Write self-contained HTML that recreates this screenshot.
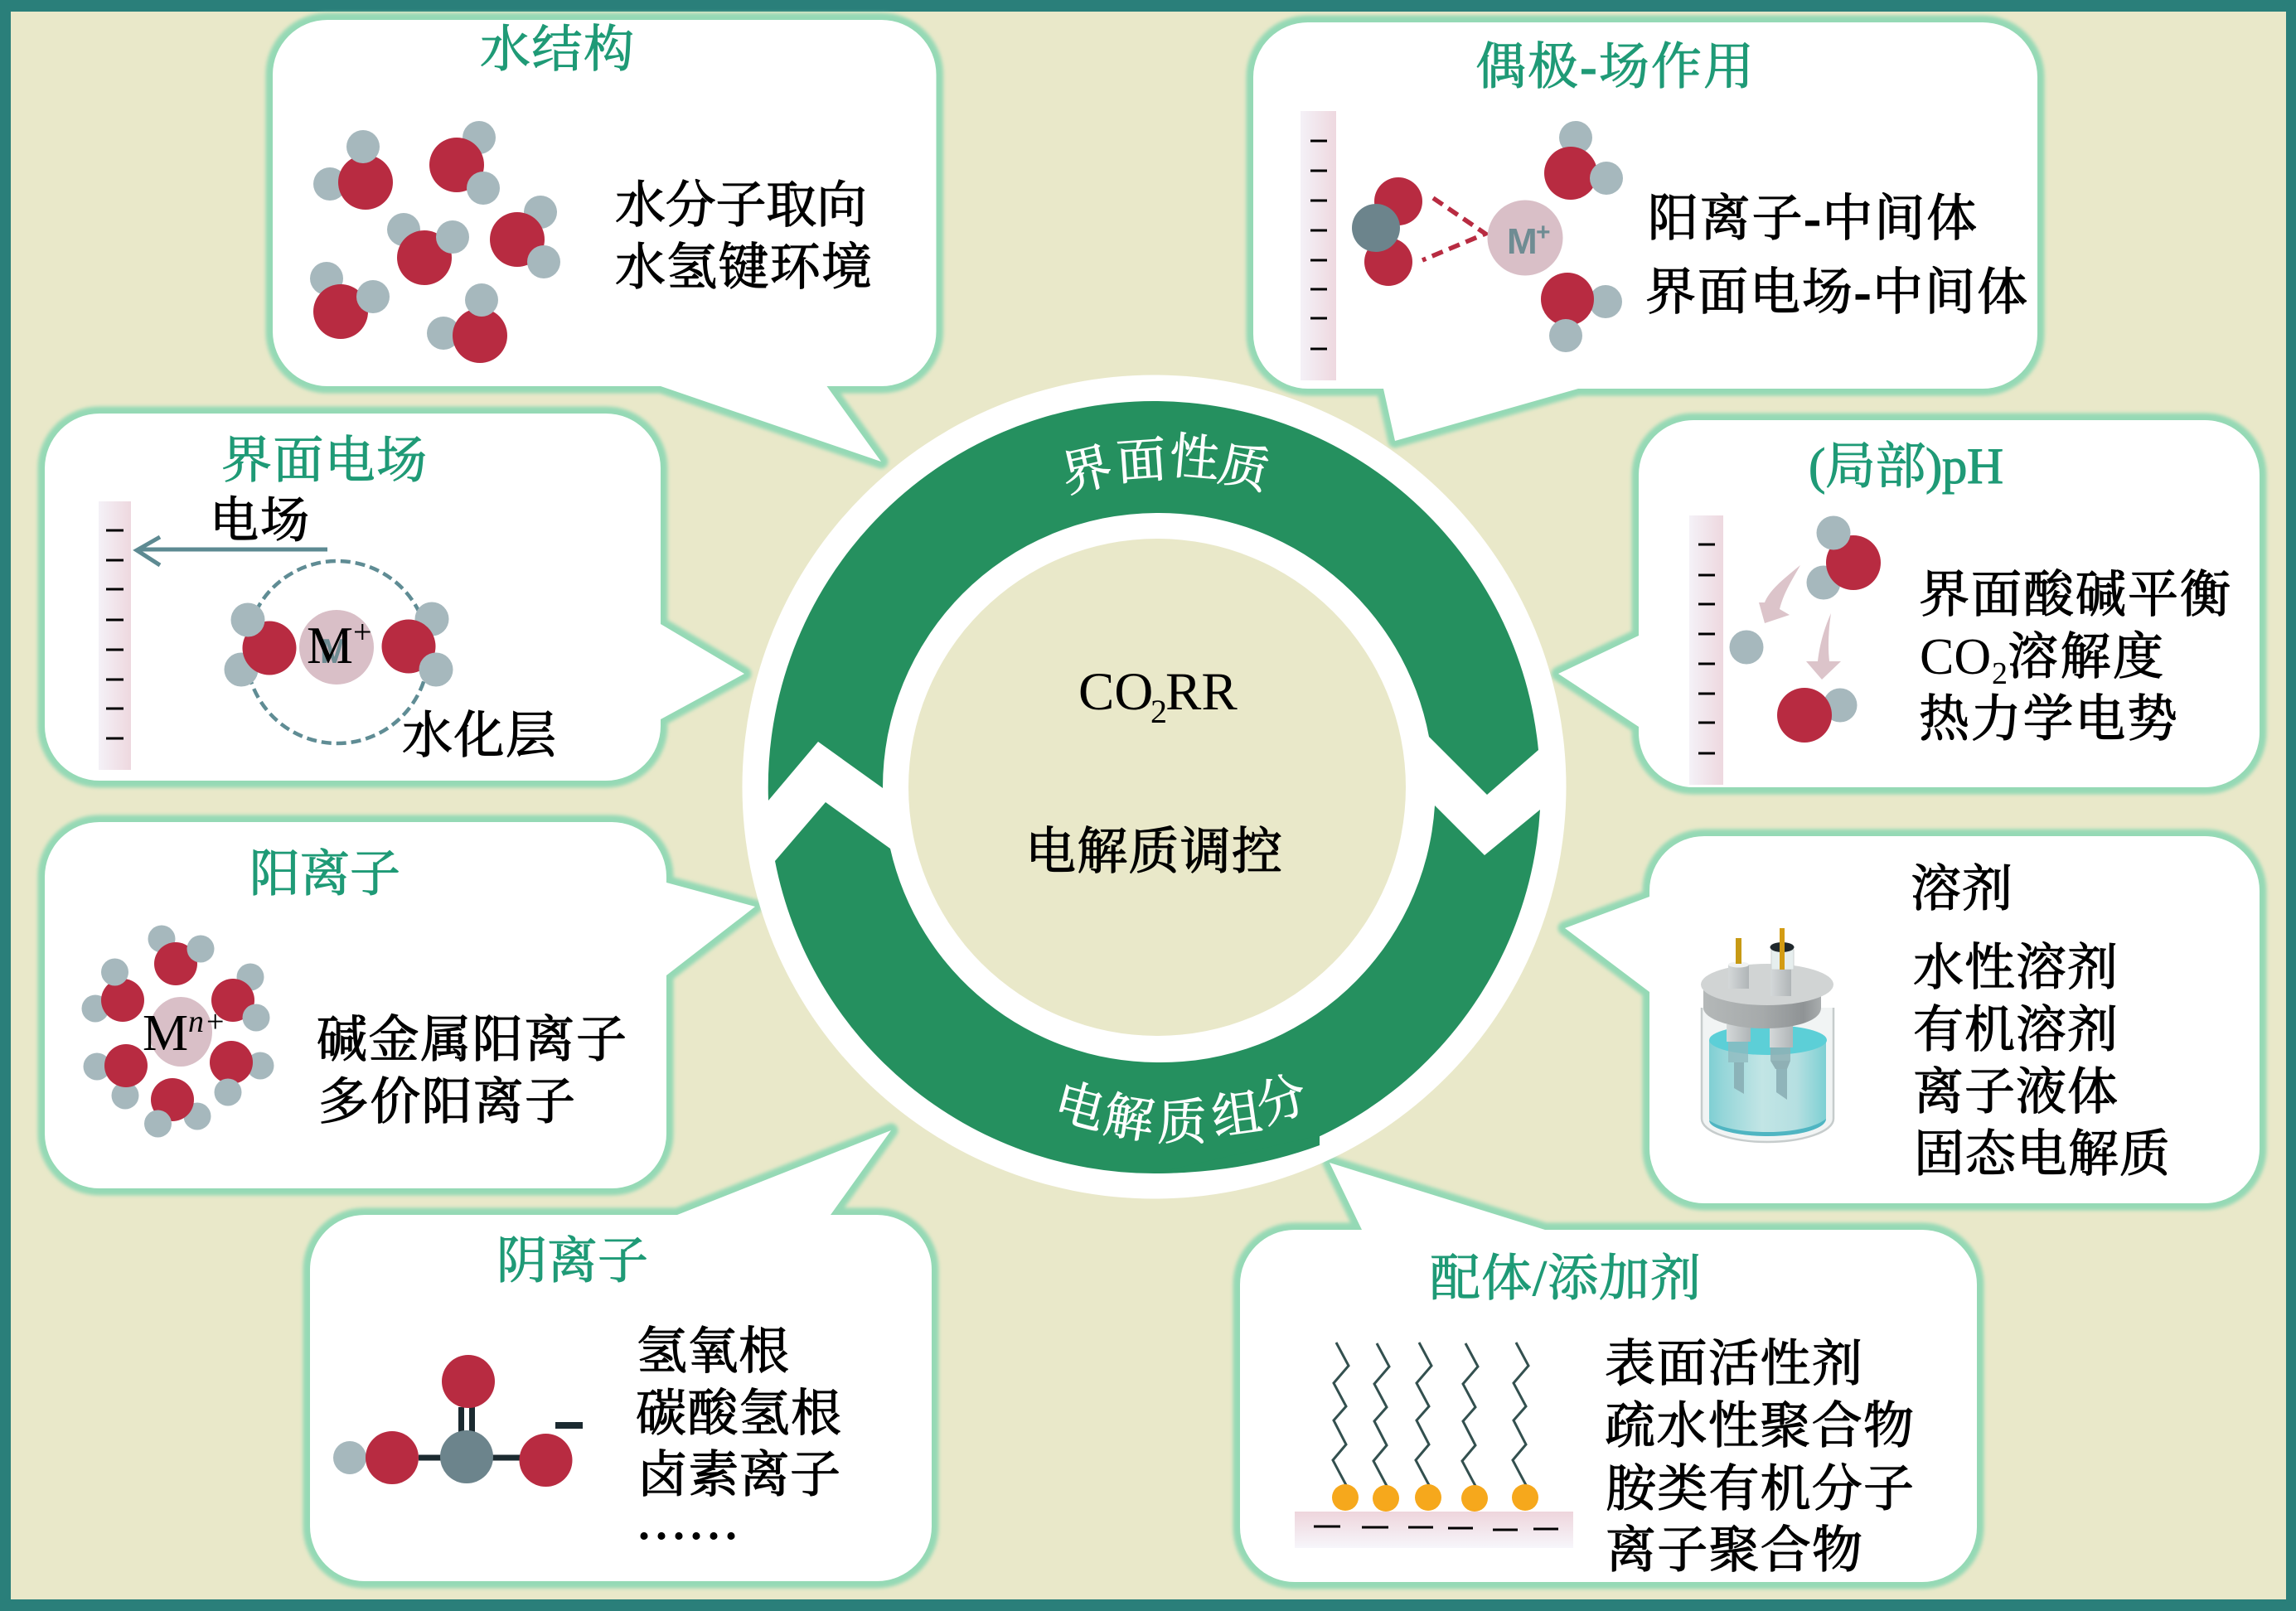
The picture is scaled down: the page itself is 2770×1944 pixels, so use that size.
<!DOCTYPE html>
<html lang="zh-CN"><head><meta charset="utf-8"><title>CO2RR 电解质调控</title>
<style>
html,body{margin:0;padding:0;background:#2a7f7a}
svg{display:block}
text{font-family:"Liberation Serif","Noto Serif CJK SC",serif}
.t{font-size:61px;fill:#1f9a76;stroke:#1f9a76;stroke-width:1}
.b{font-size:61px;fill:#000;stroke:#000;stroke-width:1.2}
.w{font-size:60px;fill:#fff;text-anchor:middle;stroke:#fff;stroke-width:.8}
.r{fill:#b82b41}.g{fill:#a6b8bd}.p{fill:#d9bfc7}.d{fill:#6c848c}
.glow{fill:none;stroke:#95d9b5;stroke-width:17;stroke-linejoin:round;filter:url(#bl)}
.fill{fill:#fff}
.tick{stroke:#000;stroke-width:3;fill:none}
.zig{fill:none;stroke:#33504f;stroke-width:3;stroke-linejoin:miter}
</style></head><body>
<svg xmlns="http://www.w3.org/2000/svg" width="2770" height="1944" viewBox="0 0 2770 1944">
<defs>
<filter id="bl" x="-5%" y="-5%" width="110%" height="110%"><feGaussianBlur stdDeviation="2.2"/></filter>
<linearGradient id="wall" x1="0" x2="1" y1="0" y2="0"><stop offset="0" stop-color="#f4f1f7"/><stop offset="1" stop-color="#eed8df"/></linearGradient>
<linearGradient id="wallv" x1="0" x2="0" y1="0" y2="1"><stop offset="0" stop-color="#eed5dc"/><stop offset="1" stop-color="#f7f6fb"/></linearGradient>
<linearGradient id="lid" x1="0" x2="1" y1="0" y2="0"><stop offset="0" stop-color="#b4b8b8"/><stop offset=".5" stop-color="#a6aaab"/><stop offset=".85" stop-color="#8f9395"/><stop offset="1" stop-color="#a9adae"/></linearGradient>
<linearGradient id="liq" x1="0" x2="1" y1="0" y2="0"><stop offset="0" stop-color="#7fcfd3"/><stop offset=".12" stop-color="#96d6d9"/><stop offset=".45" stop-color="#c2e5e5"/><stop offset=".75" stop-color="#b5dfe1"/><stop offset="1" stop-color="#7dd0d3"/></linearGradient>
<linearGradient id="rod" x1="0" x2="1" y1="0" y2="0"><stop offset="0" stop-color="#d4d8d9"/><stop offset="1" stop-color="#b0b5b7"/></linearGradient>
</defs>

<rect width="2770" height="1944" fill="#2a7f7a"/>
<rect x="13" y="14" width="2745" height="1916" fill="#e9e8c9"/>

<!-- bubble outlines -->
<path class="glow" d="M395,24H1063.5A66,66 0 0 1 1129.5,90V400A66,66 0 0 1 1063.5,466H997.5L1063,557L797,466H395A66,66 0 0 1 329,400V90A66,66 0 0 1 395,24Z"/>
<path class="glow" d="M120,499H731A66,66 0 0 1 797,565V753L898,813L797,868V876A66,66 0 0 1 731,942H120A66,66 0 0 1 54,876V565A66,66 0 0 1 120,499Z"/>
<path class="glow" d="M120,992H738A66,66 0 0 1 804,1058V1065L911,1094L804,1177V1368A66,66 0 0 1 738,1434H120A66,66 0 0 1 54,1368V1058A66,66 0 0 1 120,992Z"/>
<path class="glow" d="M440,1466H817L1075,1364L1002,1466H1058A66,66 0 0 1 1124,1532V1842A66,66 0 0 1 1058,1908H440A66,66 0 0 1 374,1842V1532A66,66 0 0 1 440,1466Z"/>
<path class="glow" d="M1562,1484H1643L1604,1403L1864,1484H2319A66,66 0 0 1 2385,1550V1843A66,66 0 0 1 2319,1909H1562A66,66 0 0 1 1496,1843V1550A66,66 0 0 1 1562,1484Z"/>
<path class="glow" d="M2056,1009H2660A66,66 0 0 1 2726,1075V1386A66,66 0 0 1 2660,1452H2056A66,66 0 0 1 1990,1386V1197L1888,1120L1990,1082V1075A66,66 0 0 1 2056,1009Z"/>
<path class="glow" d="M2043,507H2660A66,66 0 0 1 2726,573V884A66,66 0 0 1 2660,950H2043A66,66 0 0 1 1977,884V877L1880,813L1977,767V573A66,66 0 0 1 2043,507Z"/>
<path class="glow" d="M1578,27H2392A66,66 0 0 1 2458,93V403A66,66 0 0 1 2392,469H1904L1683,532L1669,469H1578A66,66 0 0 1 1512,403V93A66,66 0 0 1 1578,27Z"/>
<!-- bubble fills -->
<path class="fill" d="M395,24H1063.5A66,66 0 0 1 1129.5,90V400A66,66 0 0 1 1063.5,466H997.5L1063,557L797,466H395A66,66 0 0 1 329,400V90A66,66 0 0 1 395,24Z"/>
<path class="fill" d="M120,499H731A66,66 0 0 1 797,565V753L898,813L797,868V876A66,66 0 0 1 731,942H120A66,66 0 0 1 54,876V565A66,66 0 0 1 120,499Z"/>
<path class="fill" d="M120,992H738A66,66 0 0 1 804,1058V1065L911,1094L804,1177V1368A66,66 0 0 1 738,1434H120A66,66 0 0 1 54,1368V1058A66,66 0 0 1 120,992Z"/>
<path class="fill" d="M440,1466H817L1075,1364L1002,1466H1058A66,66 0 0 1 1124,1532V1842A66,66 0 0 1 1058,1908H440A66,66 0 0 1 374,1842V1532A66,66 0 0 1 440,1466Z"/>
<path class="fill" d="M1562,1484H1643L1604,1403L1864,1484H2319A66,66 0 0 1 2385,1550V1843A66,66 0 0 1 2319,1909H1562A66,66 0 0 1 1496,1843V1550A66,66 0 0 1 1562,1484Z"/>
<path class="fill" d="M2056,1009H2660A66,66 0 0 1 2726,1075V1386A66,66 0 0 1 2660,1452H2056A66,66 0 0 1 1990,1386V1197L1888,1120L1990,1082V1075A66,66 0 0 1 2056,1009Z"/>
<path class="fill" d="M2043,507H2660A66,66 0 0 1 2726,573V884A66,66 0 0 1 2660,950H2043A66,66 0 0 1 1977,884V877L1880,813L1977,767V573A66,66 0 0 1 2043,507Z"/>
<path class="fill" d="M1578,27H2392A66,66 0 0 1 2458,93V403A66,66 0 0 1 2392,469H1904L1683,532L1669,469H1578A66,66 0 0 1 1512,403V93A66,66 0 0 1 1578,27Z"/>

<!-- central ring -->
<circle cx="1392.5" cy="949.5" r="497" fill="#fff"/>
<path fill="#25905f" d="M927,966A466,466 0 0 1 1392,484A466,466 0 0 1 1856,905L1794,959L1724,889A331,331 0 0 0 1395,619A331,331 0 0 0 1065,951L987,895Z"/>
<path fill="#25905f" d="M935,1039L996,968L1074,1024A331,331 0 0 0 1395,1282A331,331 0 0 0 1731,972L1791,1032L1858,977A466,466 0 0 1 1392,1416A466,466 0 0 1 935,1039Z"/>
<path fill="#25905f" d="M1592,1370V1382Q1500,1416 1392,1416Z"/>
<circle cx="1396" cy="950" r="300" fill="#e9e8c9"/>

<text class="w" transform="translate(1311,567) rotate(-13)" y="21">界</text>
<text class="w" transform="translate(1377,556) rotate(-4)" y="21">面</text>
<text class="w" transform="translate(1441,552) rotate(5)" y="21">性</text>
<text class="w" transform="translate(1501,564) rotate(12)" y="21">质</text>
<text class="w" transform="translate(1303,1335) rotate(15)" y="21">电</text>
<text class="w" transform="translate(1362,1349) rotate(9)" y="21">解</text>
<text class="w" transform="translate(1426,1354) rotate(0)" y="21">质</text>
<text class="w" transform="translate(1492,1345) rotate(-8)" y="21">组</text>
<text class="w" transform="translate(1546,1327) rotate(-19)" y="21">分</text>
<text x="1301" y="856" font-size="65" fill="#000">CO</text>
<text x="1388" y="872" font-size="40" fill="#000">2</text>
<text x="1406" y="856" font-size="65" fill="#000">RR</text>
<text class="b" x="1237" y="1048" textLength="310">电解质调控</text>

<!-- 水结构 -->
<text class="t" x="579" y="80" textLength="186">水结构</text>
<text class="b" x="742" y="268" textLength="304">水分子取向</text>
<text class="b" x="742" y="343" textLength="310">水氢键环境</text>
<circle class="g" cx="398" cy="222" r="20"/><circle class="r" cx="441" cy="220" r="33"/><circle class="g" cx="438" cy="177" r="20"/>
<circle class="g" cx="578" cy="166" r="20"/><circle class="r" cx="551" cy="199" r="33"/><circle class="g" cx="583" cy="227" r="20"/>
<circle class="g" cx="487" cy="277" r="20"/><circle class="r" cx="512" cy="311" r="33"/><circle class="g" cx="546" cy="286" r="20"/>
<circle class="g" cx="652" cy="256" r="20"/><circle class="r" cx="624" cy="289" r="33"/><circle class="g" cx="656" cy="316" r="20"/>
<circle class="g" cx="394" cy="336" r="20"/><circle class="r" cx="411" cy="376" r="33"/><circle class="g" cx="450" cy="358" r="20"/>
<circle class="g" cx="535" cy="402" r="20"/><circle class="r" cx="579" cy="405" r="33"/><circle class="g" cx="581" cy="362" r="20"/>

<!-- 偶极-场作用 -->
<text class="t" x="1780" y="101" textLength="336">偶极<tspan font-weight="bold">-</tspan>场作用</text>
<text class="b" x="1988" y="284" textLength="397">阳离子<tspan font-weight="bold">-</tspan>中间体</text>
<text class="b" x="1985" y="373" textLength="461">界面电场<tspan font-weight="bold">-</tspan>中间体</text>
<rect x="1569" y="134" width="43" height="325" fill="url(#wall)"/>
<path class="tick" d="M1581,170h20M1581,206h20M1581,242h20M1581,278h20M1581,314h20M1581,349h20M1581,384h20M1581,421h20"/>
<circle class="r" cx="1687" cy="243" r="29"/><circle class="r" cx="1675" cy="316" r="29"/><circle class="d" cx="1660" cy="275" r="29"/>
<path d="M1729,239L1792,282L1716,314" fill="none" stroke="#b82b41" stroke-width="5.5" stroke-dasharray="14 8"/>
<circle class="p" cx="1840" cy="287" r="45.5"/>
<text x="1818" y="306" font-size="44" font-weight="bold" fill="#6f8c93" style="font-family:'Liberation Sans',sans-serif">M</text>
<text x="1853" y="290" font-size="30" font-weight="bold" fill="#6f8c93" style="font-family:'Liberation Sans',sans-serif">+</text>
<circle class="g" cx="1901" cy="166" r="20"/><circle class="r" cx="1895" cy="209" r="32"/><circle class="g" cx="1938" cy="215" r="20"/>
<circle class="g" cx="1937" cy="364" r="20"/><circle class="r" cx="1891" cy="361" r="32"/><circle class="g" cx="1889" cy="405" r="20"/>

<!-- 界面电场 -->
<text class="t" x="267" y="576" textLength="248">界面电场</text>
<text class="b" x="253" y="648" textLength="120" style="font-size:59px">电场</text>
<text class="b" x="485" y="908" textLength="186">水化层</text>
<rect x="119" y="605" width="39" height="324" fill="url(#wall)"/>
<path class="tick" d="M128,640h21M128,676h21M128,711h21M128,748h21M128,784h21M128,820h21M128,855h21M128,891h21"/>
<path d="M395,663H167M193,648L165,664L193,682" fill="none" stroke="#5d8a92" stroke-width="5"/>
<circle cx="407" cy="787" r="110" fill="none" stroke="#5f8c94" stroke-width="4.5" stroke-dasharray="12 6"/>
<circle class="p" cx="406" cy="781" r="45"/>
<circle class="g" cx="291" cy="808" r="20.5"/><circle class="r" cx="325" cy="782" r="32.5"/><circle class="g" cx="299" cy="748" r="20.5"/>
<circle class="g" cx="521" cy="747" r="20.5"/><circle class="r" cx="493" cy="780" r="32.5"/><circle class="g" cx="526" cy="808" r="20.5"/>
<text x="386" y="800" font-size="42" font-weight="bold" fill="#6f8c93" style="font-family:'Liberation Sans',sans-serif">M</text>
<text x="370" y="800" font-size="63" fill="#000">M</text>
<text x="426" y="776" font-size="40" fill="#000">+</text>

<!-- 阳离子 -->
<text class="t" x="301" y="1075" textLength="182">阳离子</text>
<text class="b" x="382" y="1275" textLength="374">碱金属阳离子</text>
<text class="b" x="384" y="1350" textLength="310">多价阳离子</text>
<ellipse class="p" cx="218" cy="1245" rx="38" ry="42"/>
<circle class="g" cx="195" cy="1133" r="16.5"/><circle class="r" cx="212" cy="1163" r="26"/><circle class="g" cx="242" cy="1145" r="16.5"/>
<circle class="g" cx="115" cy="1217" r="16.5"/><circle class="r" cx="148" cy="1207" r="26"/><circle class="g" cx="138.5" cy="1173" r="16.5"/>
<circle class="g" cx="302" cy="1179" r="16.5"/><circle class="r" cx="281" cy="1207" r="26"/><circle class="g" cx="309" cy="1228" r="16.5"/>
<circle class="g" cx="117" cy="1287" r="16.5"/><circle class="g" cx="151" cy="1322" r="16.5"/><circle class="r" cx="152" cy="1286" r="26"/>
<circle class="g" cx="314" cy="1286" r="16.5"/><circle class="r" cx="279" cy="1282" r="26"/><circle class="g" cx="275" cy="1318" r="16.5"/>
<circle class="g" cx="238" cy="1347" r="16.5"/><circle class="r" cx="208" cy="1327" r="26"/><circle class="g" cx="190.5" cy="1356" r="16.5"/>
<text x="172" y="1267" font-size="62" fill="#000">M</text>
<text x="227" y="1245" font-size="38" font-style="italic" fill="#000">n</text>
<text x="249" y="1245" font-size="38" fill="#000">+</text>

<!-- 阴离子 -->
<text class="t" x="599" y="1542" textLength="183">阴离子</text>
<text class="b" x="768" y="1651" textLength="184">氢氧根</text>
<text class="b" x="767" y="1726" textLength="248">碳酸氢根</text>
<text class="b" x="769" y="1800" textLength="245">卤素离子</text>
<text y="1857" font-size="56" font-weight="bold" fill="#000" x="770 791 812 833 854 875">......</text>
<g fill="#1b2a30">
<rect x="553" y="1698" width="7" height="32"/><rect x="566" y="1698" width="7" height="32"/>
<rect x="505" y="1755.5" width="123" height="7"/>
<rect x="670" y="1716" width="33" height="8"/>
</g>
<circle class="g" cx="422" cy="1759" r="20"/>
<circle class="r" cx="565" cy="1667" r="32"/><circle class="r" cx="473" cy="1759" r="32"/><circle class="r" cx="658.5" cy="1762" r="32"/>
<circle class="d" cx="563" cy="1758" r="32"/>

<!-- 配体/添加剂 -->
<text class="t" x="1725" y="1563" textLength="327">配体/添加剂</text>
<text class="b" x="1936" y="1666" textLength="311">表面活性剂</text>
<text class="b" x="1936" y="1741" textLength="373">疏水性聚合物</text>
<text class="b" x="1937" y="1817" textLength="372">胺类有机分子</text>
<text class="b" x="1937" y="1891" textLength="310">离子聚合物</text>
<rect x="1562" y="1824" width="336" height="44" fill="url(#wallv)"/>
<path class="tick" d="M1585,1842h32M1643,1843h32M1699,1843h30M1747,1844h30M1801,1846h30M1850,1845h30"/>
<path class="zig" d="M1624,1792L1608,1762L1624,1743L1609,1714L1624,1697L1609,1669L1627,1648L1612,1620"/>
<path class="zig" transform="translate(49,1)" d="M1624,1792L1608,1762L1624,1743L1609,1714L1624,1697L1609,1669L1627,1648L1612,1620"/>
<path class="zig" transform="translate(100,0)" d="M1624,1792L1608,1762L1624,1743L1609,1714L1624,1697L1609,1669L1627,1648L1612,1620"/>
<path class="zig" transform="translate(156,1)" d="M1624,1792L1608,1762L1624,1743L1609,1714L1624,1697L1609,1669L1627,1648L1612,1620"/>
<path class="zig" transform="translate(217,0)" d="M1624,1792L1608,1762L1624,1743L1609,1714L1624,1697L1609,1669L1627,1648L1612,1620"/>
<g fill="#f6a81c"><circle cx="1623" cy="1807" r="16"/><circle cx="1672" cy="1808" r="16"/><circle cx="1723" cy="1807" r="16"/><circle cx="1779" cy="1808" r="16"/><circle cx="1840" cy="1807" r="16"/></g>

<!-- 溶剂 -->
<text class="b" x="2305" y="1093" textLength="123">溶剂</text>
<text class="b" x="2308" y="1188" textLength="247">水性溶剂</text>
<text class="b" x="2308" y="1263" textLength="247">有机溶剂</text>
<text class="b" x="2308" y="1338" textLength="247">离子液体</text>
<text class="b" x="2309" y="1413" textLength="309">固态电解质</text>
<!-- cell -->
<path d="M2053,1216V1350C2053,1366 2090,1378 2132,1378C2174,1378 2212,1366 2212,1350V1216" fill="#f1f4f4" stroke="#c6cccc" stroke-width="2.5"/>
<path d="M2062,1255V1350C2062,1362 2095,1371 2133,1371C2171,1371 2203,1362 2203,1350V1255Z" fill="url(#liq)"/>
<path d="M2062,1352C2062,1362 2095,1371 2133,1371C2171,1371 2203,1362 2203,1350C2190,1361 2160,1366 2133,1366C2100,1366 2075,1361 2062,1352Z" fill="#4fb5c2"/>
<ellipse cx="2133" cy="1255" rx="71" ry="18" fill="#5ccfd7"/>
<rect x="2083" y="1236" width="29" height="21" fill="url(#rod)"/><rect x="2135" y="1236" width="28" height="28" fill="url(#rod)"/>
<rect x="2085" y="1257" width="24" height="25" fill="#8fb8bd" opacity=".75"/><rect x="2136" y="1264" width="24" height="16" fill="#8fb0b5" opacity=".85"/>
<path d="M2136,1280H2160L2156,1290H2142Z" fill="#8fb0b5"/>
<path d="M2092,1282H2104V1320L2092,1313Z" fill="#84a9af" opacity=".8"/>
<path d="M2143,1290H2156V1327L2143,1318Z" fill="#84a9af" opacity=".8"/>
<path d="M2055,1188V1216C2055,1230 2090,1241 2128,1241C2166,1241 2197,1232 2197,1216V1188Z" fill="url(#lid)"/>
<ellipse cx="2132" cy="1188" rx="80" ry="25" fill="#d1d4d4"/>
<rect x="2085" y="1164" width="25" height="29" fill="url(#rod)"/>
<ellipse cx="2097.5" cy="1164" rx="12.5" ry="3.5" fill="#f0f2f2"/>
<rect x="2094" y="1132" width="7" height="31" fill="#c79a14"/>
<rect x="2137" y="1146" width="27" height="24" fill="#e6eeee" stroke="#cdd2d2"/>
<ellipse cx="2150" cy="1143" rx="14.5" ry="6" fill="#20282c"/>
<rect x="2136" y="1170" width="25" height="32" fill="url(#rod)"/>
<rect x="2147" y="1120" width="6" height="50" fill="#d39c14"/>

<!-- (局部)pH -->
<text class="t" x="2182" y="583" textLength="235">(局部)pH</text>
<text class="b" x="2315" y="738" textLength="376">界面酸碱平衡</text>
<text x="2316" y="813" font-size="62" fill="#000">CO</text>
<text x="2403" y="825" font-size="38" fill="#000">2</text>
<text class="b" x="2422" y="813" textLength="188">溶解度</text>
<text class="b" x="2315" y="888" textLength="312">热力学电势</text>
<rect x="2038" y="622" width="41" height="325" fill="url(#wall)"/>
<path class="tick" d="M2049,657h20M2049,694h20M2049,729h20M2049,765h20M2049,801h20M2049,837h20M2049,872h20M2049,909h20"/>
<circle class="g" cx="2200" cy="703" r="20.5"/><circle class="r" cx="2236" cy="679" r="33"/><circle class="g" cx="2212" cy="643" r="20.5"/>
<circle class="g" cx="2107" cy="781" r="20.5"/>
<circle class="g" cx="2220" cy="851" r="20.5"/><circle class="r" cx="2177" cy="863" r="33"/>
<path fill="#dcc4ca" d="M2172,682C2150,700 2135,712 2129,727L2122,727L2129,752L2159,742L2147,735C2152,715 2162,700 2172,682Z"/>
<path fill="#dcc4ca" d="M2209,740C2200,760 2195,780 2193,798L2179,798L2198,820L2221,798L2207,798C2205,780 2206,760 2209,740Z"/>
</svg>
</body></html>
